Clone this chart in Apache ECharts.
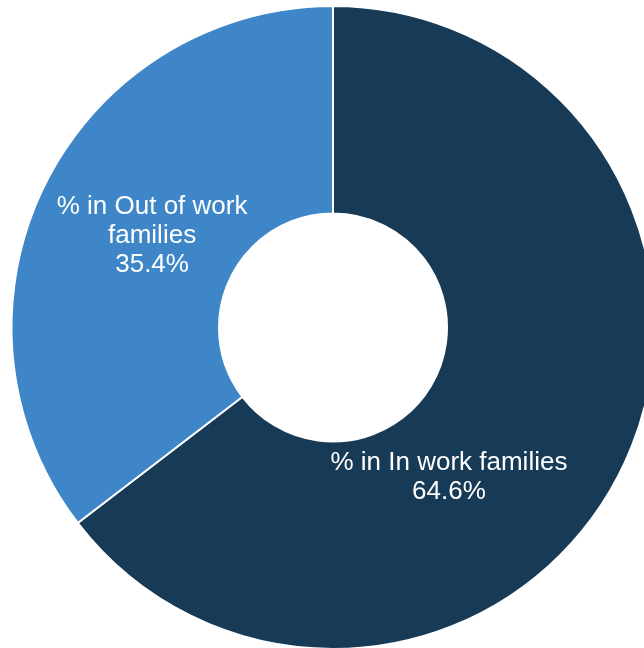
<!DOCTYPE html>
<html>
<head>
<meta charset="utf-8">
<script src="https://cdn.jsdelivr.net/npm/echarts@6/dist/echarts.min.js"></script>
<style>
html,body{margin:0;padding:0;background:#fff;}
#chart{width:644px;height:648px;}
</style>
</head>
<body>
<div id="chart"></div>
<script>
var categories = ['% in In work families', '% in Out of work families'];
var labelText = ['% in In work families', '% in Out of work\nfamilies'];
var values = [64.6, 35.4];
var colors = ['#173A56', '#3E86C7'];
var labelOffsets = [[-82, 52], [17, 6]];

var chart = echarts.init(document.getElementById('chart'));
var data = categories.map(function (c, i) {
  return {
    name: c,
    value: values[i],
    itemStyle: { color: colors[i] },
    label: { offset: labelOffsets[i] }
  };
});
chart.setOption({
  animation: false,
  series: [{
    type: 'pie',
    center: [333, 327.5],
    radius: [114, 321.5],
    startAngle: 90,
    clockwise: true,
    silent: true,
    itemStyle: { borderColor: '#ffffff', borderWidth: 2 },
    label: {
      position: 'inside',
      color: '#ffffff',
      fontFamily: 'Liberation Sans, Arial, sans-serif',
      fontSize: 26,
      lineHeight: 29,
      align: 'center',
      formatter: function (p) {
        return labelText[p.dataIndex] + '\n' + p.value.toFixed(1) + '%';
      }
    },
    labelLine: { show: false },
    data: data
  }]
});
</script>
</body>
</html>
